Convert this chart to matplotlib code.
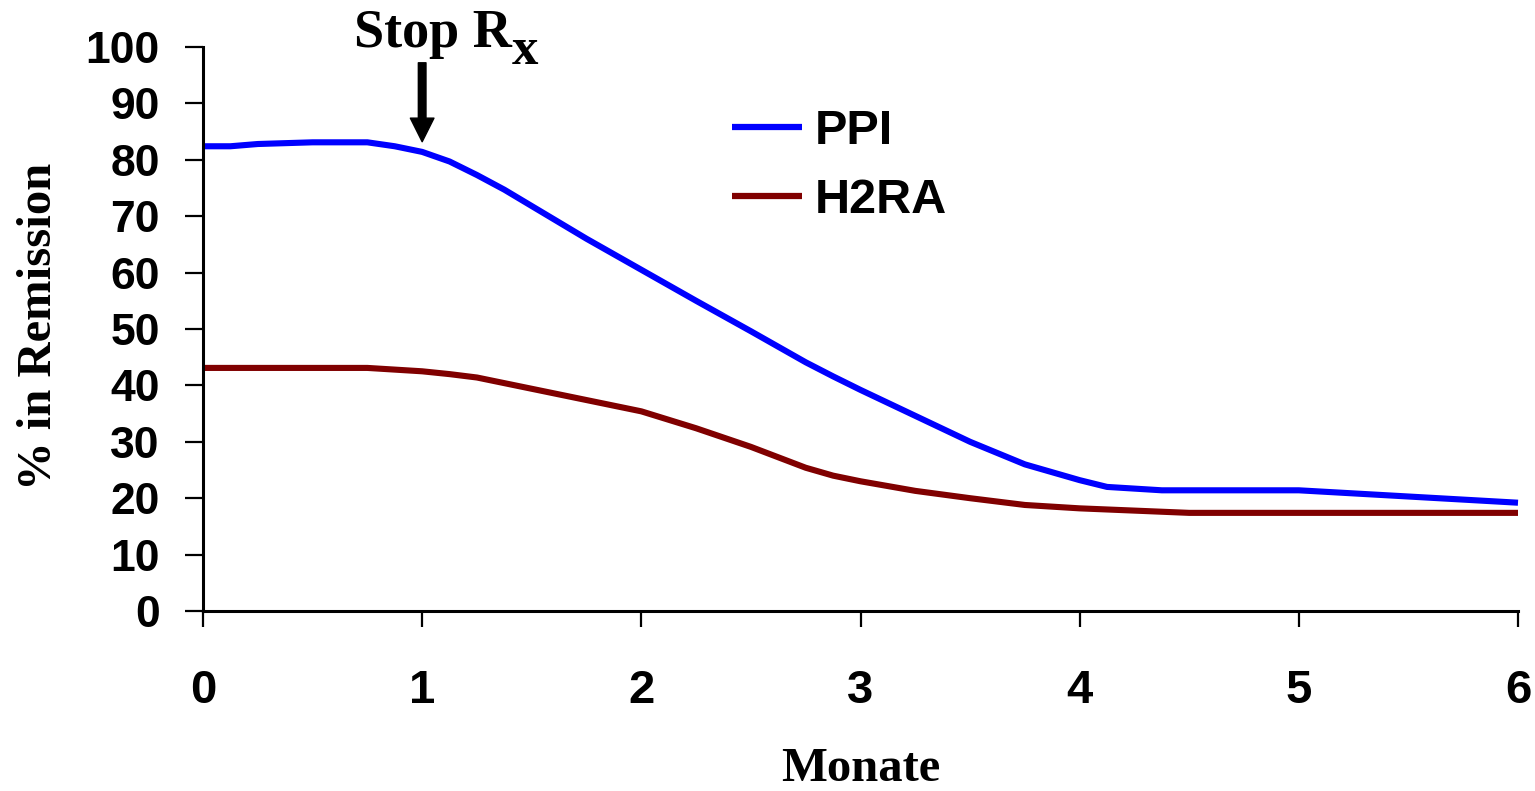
import matplotlib
matplotlib.use("Agg")
import matplotlib.pyplot as plt

# Months after start of therapy
months = [0, 0.125, 0.25, 0.5, 0.75, 0.875, 1, 1.125, 1.25, 1.375, 1.5, 1.75,
          2, 2.25, 2.5, 2.75, 2.875, 3, 3.25, 3.5, 3.75, 4, 4.125, 4.375, 4.5, 5, 6]

# Percentage of patients in remission
ppi = [82.4, 82.4, 82.8, 83.1, 83.1, 82.4, 81.4, 79.7, 77.3, 74.7, 71.8, 66.0,
       60.5, 55.0, 49.6, 44.1, 41.6, 39.2, 34.6, 30.0, 26.0, 23.2, 22.0, 21.4, 21.4, 21.4, 19.2]
h2ra = [43.1, 43.1, 43.1, 43.1, 43.1, 42.8, 42.5, 42.0, 41.4, 40.4, 39.4, 37.4,
        35.4, 32.4, 29.1, 25.4, 24.0, 23.0, 21.3, 20.0, 18.8, 18.2, 18.0, 17.6, 17.4, 17.4, 17.4]

series_names = ["PPI", "H2RA"]
x_ticks = [0, 1, 2, 3, 4, 5, 6]
y_ticks = list(range(0, 101, 10))
stop_month = 1

W, H = 1535, 791
fig = plt.figure(figsize=(W / 100, H / 100), dpi=100)
ax = fig.add_axes([203 / W, 1 - 611 / H, (1518 - 203) / W, (611 - 47) / H])

sans = "Liberation Sans"
serif = "Liberation Serif"

ax.plot(months, ppi, color="#0000ff", lw=4.4, label=series_names[0],
        clip_on=False, solid_capstyle="butt", solid_joinstyle="round")
ax.plot(months, h2ra, color="#800000", lw=4.4, label=series_names[1],
        clip_on=False, solid_capstyle="butt", solid_joinstyle="round")

ax.set_xlim(0, 6)
ax.set_ylim(0, 100)
ax.set_xticks(x_ticks)
ax.set_yticks(y_ticks)
ax.set_xticklabels([str(t) for t in x_ticks], fontfamily=sans, fontweight="bold", fontsize=34)
ax.set_yticklabels([str(t) for t in y_ticks], fontfamily=sans, fontweight="bold", fontsize=32)

for side in ("top", "right"):
    ax.spines[side].set_visible(False)
for side in ("left", "bottom"):
    ax.spines[side].set_linewidth(2.2)

ax.tick_params(axis="y", direction="out", length=13, width=1.6, pad=18)
ax.tick_params(axis="x", direction="out", length=11.5, width=1.6, pad=30)

ax.set_xlabel("Monate", fontfamily=serif, fontweight="bold", fontsize=35)
ax.xaxis.set_label_coords(0.5, -0.242)
ax.set_ylabel("% in Remission", fontfamily=serif, fontweight="bold", fontsize=35)
ax.yaxis.set_label_coords(-0.108, 0.505)

leg = ax.legend(loc="center left", bbox_to_anchor=((732 - 203) / 1315, (611 - 166) / 564),
                frameon=False, borderpad=0, borderaxespad=0, handlelength=1.44,
                handletextpad=0.27, labelspacing=0.5,
                prop={"family": sans, "weight": "bold", "size": 35})
for line in leg.get_lines():
    line.set_linewidth(4.5)

# Arrow marking the end of treatment
ax.annotate("", xy=(stop_month, 83.2), xytext=(stop_month, 97.2),
            arrowprops=dict(facecolor="black", edgecolor="black", width=5.5,
                            headwidth=17, headlength=17, shrink=0),
            annotation_clip=False)

stop = fig.text(354 / W, 1 - 47 / H, "Stop R", fontfamily=serif, fontweight="bold",
                fontsize=39, ha="left", va="baseline")
ax.annotate("x", xy=(1, 0), xycoords=stop, xytext=(0, -5), textcoords="offset pixels",
            fontfamily=serif, fontweight="bold", fontsize=38, ha="left", va="baseline",
            annotation_clip=False)

fig.savefig("out.png", dpi=100)
